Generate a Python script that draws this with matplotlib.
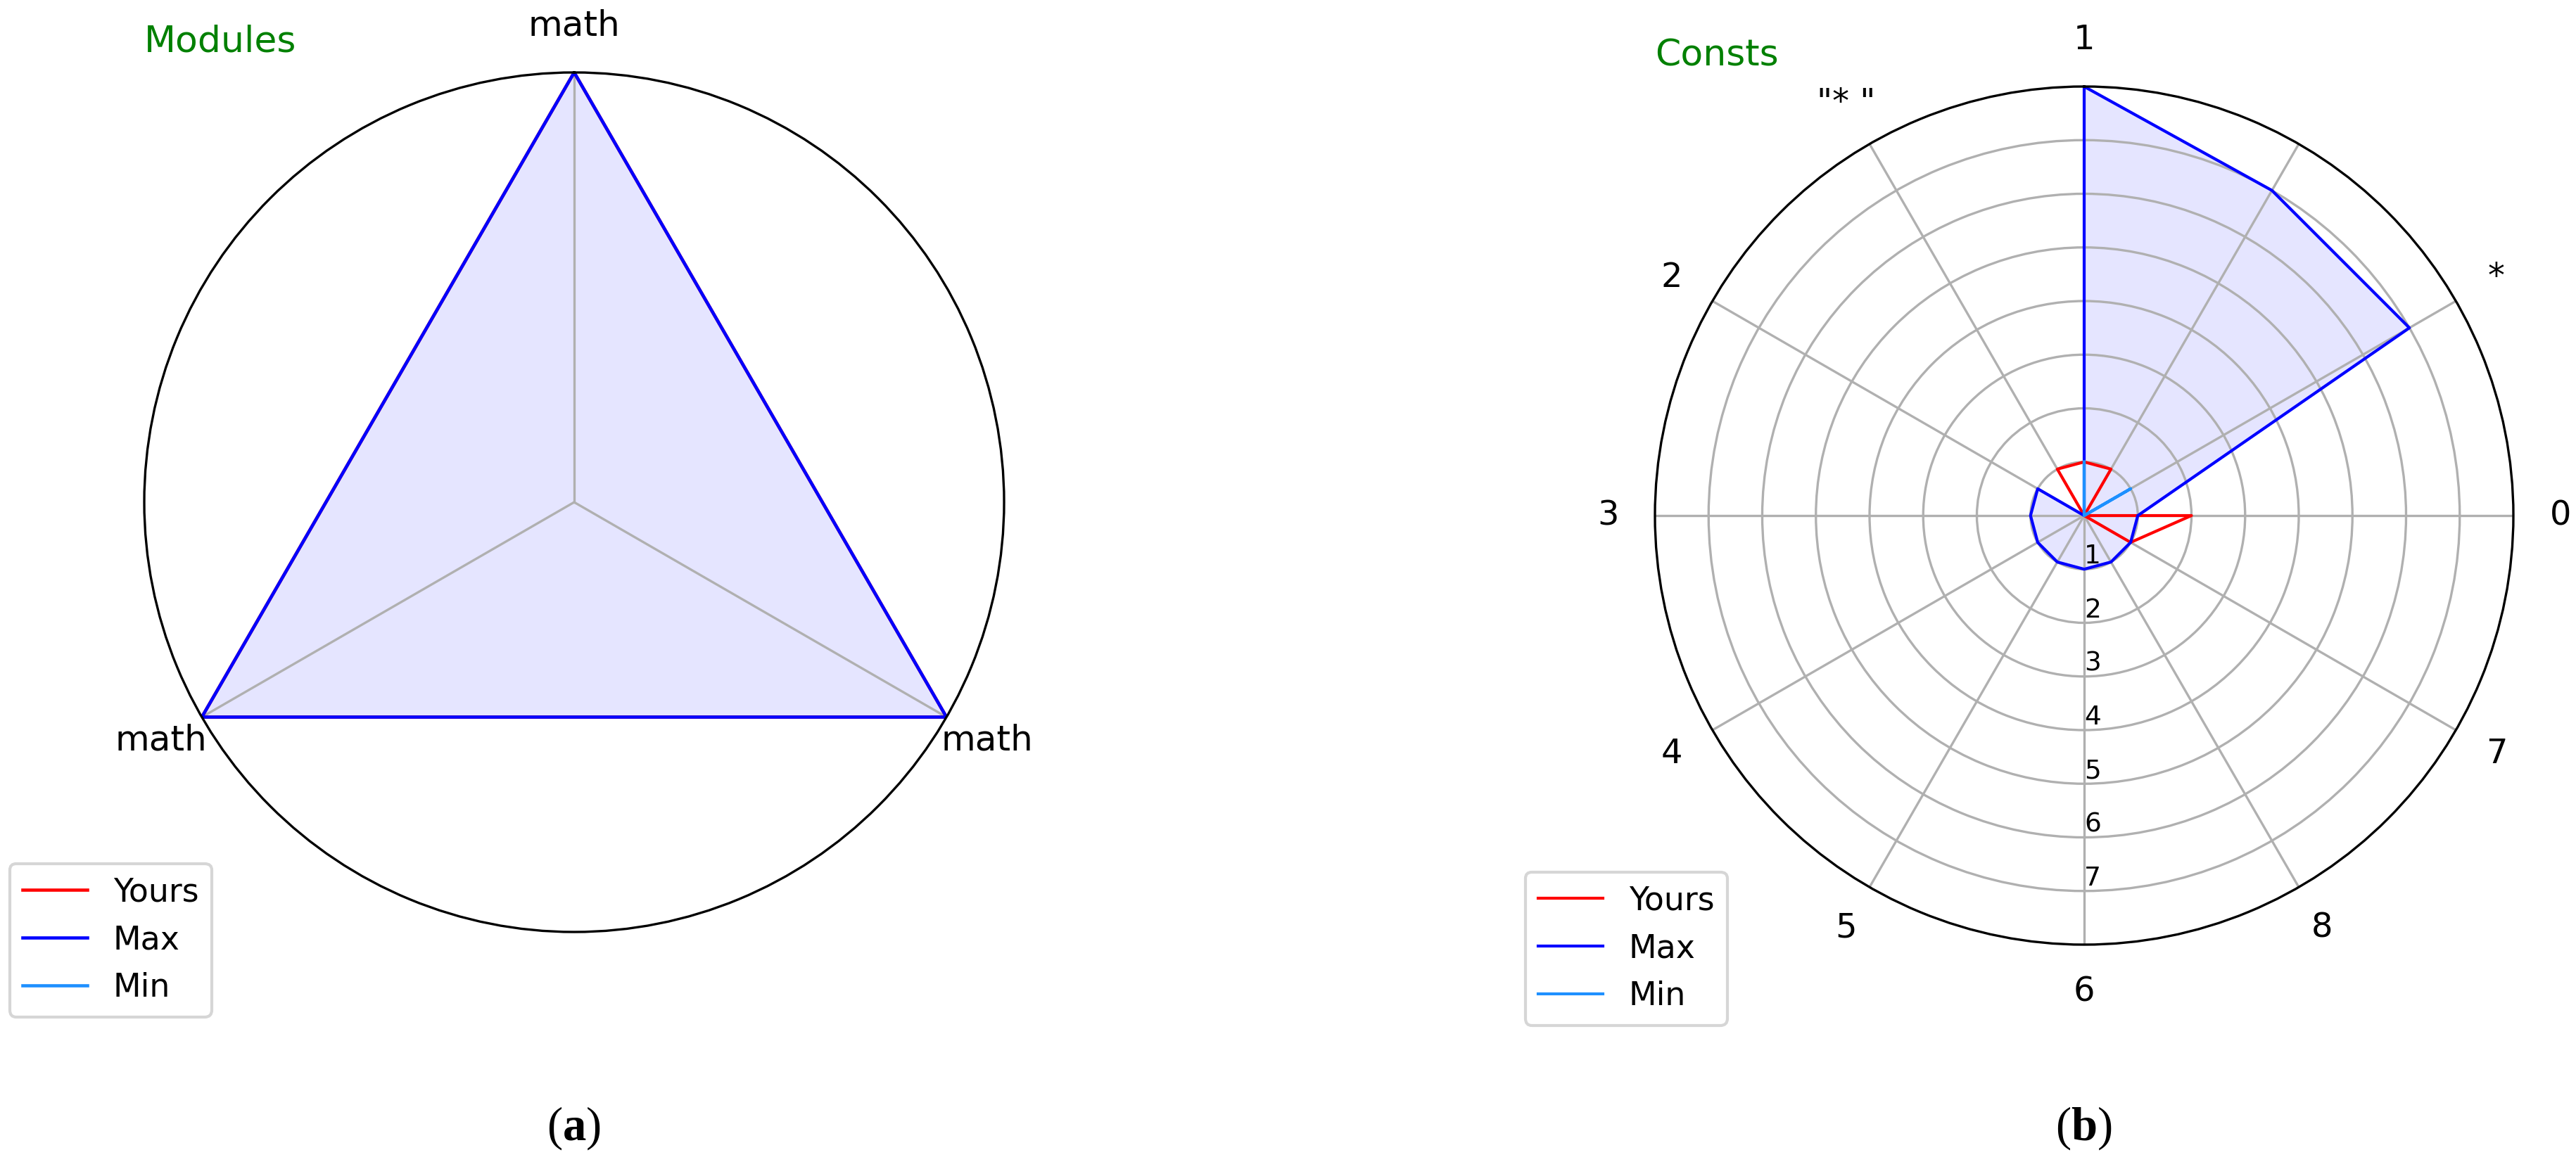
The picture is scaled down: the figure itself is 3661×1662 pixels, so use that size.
import numpy as np
import matplotlib.pyplot as plt

# Modules radar (a)
module_labels = ["math", "math", "math"]
module_yours = [1, 1, 1]
module_max = [1, 1, 1]
module_min = [0, 0, 0]

# Consts radar (b), listed counter-clockwise starting at the top
const_labels = ["1", '"* "', "2", "3", "4", "5", "6", "8", "7", "0", "*", " "]
const_yours = [1, 1, 0, 0, 0, 0, 0, 0, 1, 2, 0, 1]
const_max = [8, 0, 1, 1, 1, 1, 1, 1, 1, 1, 7, 7]
const_min = [1, 0, 0, 0, 0, 0, 0, 0, 0, 0, 1, 0]

W, H = 3661, 1662

plt.rcParams['mathtext.fontset'] = 'custom'
plt.rcParams['mathtext.rm'] = 'Liberation Serif'
plt.rcParams['mathtext.bf'] = 'Liberation Serif:bold'

fig = plt.figure(figsize=(W / 300, H / 300), dpi=300)


def radar(rect, labels, yours, vmax, vmin, title, lw, tick_size):
    ax = fig.add_axes(rect, projection='polar')
    ax.set_theta_offset(np.pi / 2)
    angles = np.linspace(0, 2 * np.pi, len(labels), endpoint=False)
    closed = np.append(angles, angles[0])
    for vals, color, name in [(yours, 'red', 'Yours'),
                              (vmax, 'blue', 'Max'),
                              (vmin, 'dodgerblue', 'Min')]:
        ax.plot(closed, np.append(vals, vals[0]), color=color,
                linewidth=lw, label=name)
    ax.fill(closed, np.append(vmax, vmax[0]), color='blue', alpha=0.1)
    ax.set_xticks(angles)
    ax.set_xticklabels(labels, fontsize=tick_size)
    ax.tick_params(axis='x', pad=5.5)
    ax.set_title(title, loc='left', color='green', fontsize=12.5, y=1.0, pad=7)
    return ax


# (a)
ax1 = radar([(816 - 611) / W, (H - 714 - 611) / H, 1222 / W, 1222 / H],
            module_labels, module_yours, module_max, module_min,
            "Modules", 1.1, 12)
ax1.set_ylim(0, 1)
ax1.set_yticks([])
ax1.legend(loc='upper left', bbox_to_anchor=(14 / W, 1 - 1228 / H),
           bbox_transform=fig.transFigure, borderaxespad=0, fontsize=11)

# (b)
ax2 = radar([(2962 - 610) / W, (H - 733 - 610) / H, 1220 / W, 1220 / H],
            const_labels, const_yours, const_max, const_min,
            "Consts", 1.0, 11.5)
ax2.set_ylim(0, 8)
ax2.set_yticks(range(1, 8))
ax2.set_rlabel_position(180)
ax2.tick_params(axis='y', labelsize=9)
ax2.legend(loc='upper left', bbox_to_anchor=(2168 / W, 1 - 1240 / H),
           bbox_transform=fig.transFigure, borderaxespad=0, fontsize=11)

fig.text(815 / W, 1 - 1604 / H, r'($\mathbf{a}$)', ha='center', va='center',
         fontsize=16, family='Liberation Serif')
fig.text(2961 / W, 1 - 1604 / H, r'($\mathbf{b}$)', ha='center', va='center',
         fontsize=16, family='Liberation Serif')

fig.savefig("out.png", dpi=300)
